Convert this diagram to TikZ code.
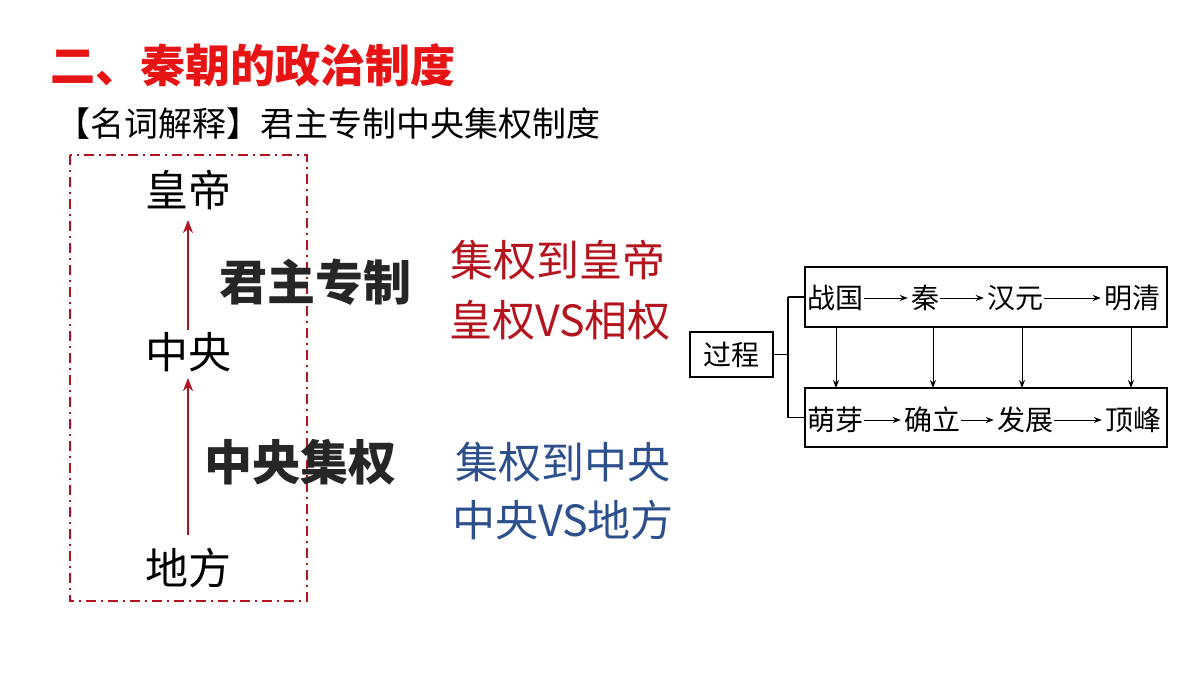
\documentclass[tikz,border=0pt]{standalone}
\usepackage{fontspec}
\setmainfont{Noto Sans CJK SC}
\usetikzlibrary{arrows.meta}
\definecolor{dred}{RGB}{180,20,30}
\definecolor{tred}{RGB}{230,20,20}
\definecolor{tblue}{RGB}{45,80,140}
\tikzset{
  big/.style={font=\fontsize{43}{46}\selectfont, inner sep=0},
  sm/.style={font=\fontsize{28}{30}\selectfont, inner sep=0},
  bx/.style={draw, line width=1.3pt},
  rarr/.style={dred, line width=2.2pt, -{Stealth[length=13pt,width=10pt]}},
  karr/.style={line width=1pt, -{Stealth[length=8pt,width=6pt]}}
}
\begin{document}
\begin{tikzpicture}[x=1pt,y=-1pt]
\useasboundingbox (0,0) rectangle (1200,675);
\node[anchor=west, inner sep=0, tred, font=\fontsize{45}{48}\selectfont\bfseries] (title) at (50,65) {二、秦朝的政治制度};
\node[anchor=west, inner sep=0, font=\fontsize{34}{36}\selectfont] (sub) at (56,124) {【名词解释】君主专制中央集权制度};
\draw[dred, line width=1.8pt, dash pattern=on 10pt off 5pt on 2pt off 5pt] (70,155) rectangle (307,601);
\node[big] (hd) at (188,190) {皇帝};
\node[big] (zy) at (188,352) {中央};
\node[big] (df) at (188,568) {地方};
\draw[rarr] (188,330) -- (188,220);
\draw[rarr] (188,535) -- (188,378);
\node[big, font=\fontsize{48}{50}\selectfont\bfseries, text=black!85] (jz) at (315,282) {君主专制};
\node[big, font=\fontsize{48}{50}\selectfont\bfseries, text=black!85] (zj) at (300,462) {中央集权};
\node[big, dred] (r1) at (558,260) {集权到皇帝};
\node[big, dred] (r2) at (560,320) {皇权VS相权};
\node[big, tblue] (b1) at (563,462) {集权到中央};
\node[big, tblue] (b2) at (563,520) {中央VS地方};
% right diagram
\node[bx, minimum width=83pt, minimum height=45pt, sm] (gc) at (731.5,354.5) {过程};
\node[bx, minimum width=362pt, minimum height=60pt] (top) at (986,297) {};
\node[bx, minimum width=362pt, minimum height=59pt] (bot) at (986,417.5) {};
\coordinate (br) at (788,354.5);
\draw[line width=1.2pt] (gc.east) -- (br) (788,297) -- (top.west) (788,417.5) -- (bot.west) (788,297) -- (788,417.5);
\node[sm] (t1) at (835,298) {战国};
\node[sm] (t2) at (925,298) {秦};
\node[sm] (t3) at (1015,298) {汉元};
\node[sm] (t4) at (1132,298) {明清};
\node[sm] (u1) at (835,420) {萌芽};
\node[sm] (u2) at (932,420) {确立};
\node[sm] (u3) at (1025,420) {发展};
\node[sm] (u4) at (1133,420) {顶峰};
\foreach \a/\b in {t1/t2,t2/t3,t3/t4,u1/u2,u2/u3,u3/u4}
  \draw[karr] ([xshift=1pt]\a.east) -- ([xshift=-3pt]\b.west);
\foreach \x in {836,933,1022,1131}
  \draw[karr] (\x,327) -- (\x,388);
\end{tikzpicture}
\end{document}
